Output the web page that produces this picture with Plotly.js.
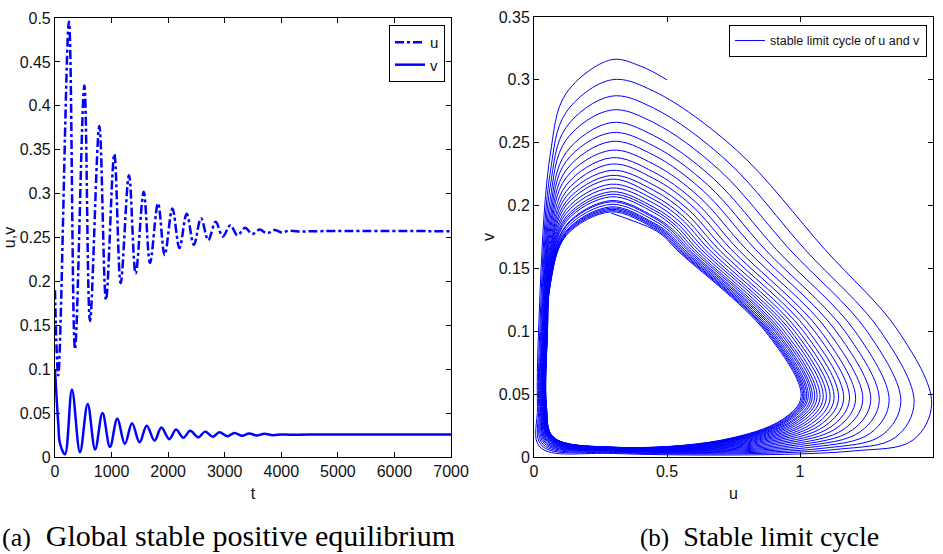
<!DOCTYPE html>
<html>
<head>
<meta charset="utf-8">
<script src="https://cdn.plot.ly/plotly-3.0.1.min.js"></script>
<style>html,body{margin:0;padding:0;background:#fff;}#chart{width:943px;height:554px;}</style>
</head>
<body>
<div id="chart"></div>
<script>
// ---------- (a) time series u(t), v(t) : extrema ----------
const uTime = [0,58,247,354,519,619,784,902,1049,1161,1308,1426,1568,1680,1821,1939,2075,2200,2328,2455,2581,2710,2840,2965,3100,3225,3360,3485,3620,3745,3880,4005,4140,4300,4600,7000];
const uVal  = [0.19,0.093,0.496,0.123,0.423,0.155,0.377,0.179,0.345,0.198,0.321,0.209,0.302,0.221,0.289,0.230,0.283,0.238,0.277,0.2415,0.272,0.247,0.268,0.251,0.264,0.2525,0.261,0.254,0.259,0.2548,0.2585,0.2558,0.2578,0.2568,0.2572,0.2572];
const vTime = [0,58,88,177,300,442,578,710,840,972,1101,1235,1362,1495,1621,1760,1880,2020,2139,2268,2390,2534,2652,2788,2905,3050,3170,3310,3430,3570,3700,3850,4000,4150,4500,7000];
const vVal  = [0.100,0.038,0.0156,0.003,0.077,0.0055,0.0605,0.0085,0.050,0.0115,0.0435,0.0148,0.0385,0.0167,0.0355,0.0186,0.0335,0.0203,0.0312,0.0218,0.0298,0.0224,0.0289,0.023,0.0281,0.0236,0.0274,0.0241,0.0268,0.0245,0.0264,0.0249,0.0257,0.0254,0.0255,0.0255];

// ---------- (b) phase portrait: key points of each turn of the spiral (outer -> inner) ----------
const startPts = {u:[0.50,0.40], v:[0.300,0.311]};
const topU = 0.29;
const topV   = [0.316,0.300,0.287,0.276,0.266,0.258,0.251,0.244,0.238,0.233,0.228,0.224,0.221,0.217,0.214,0.211,0.209,0.207,0.204,0.203,0.201,0.199,0.198,0.197,0.196,0.195,0.194];
const arcU = 0.12;
const arcV   = [0.289,0.274,0.262,0.252,0.242,0.235,0.228,0.222,0.216,0.211,0.207,0.203,0.200,0.1965,0.1937,0.1909,0.189,0.1872,0.1843,0.1834,0.1815,0.1796,0.1787,0.1778,0.1769,0.1759];
const left1U = 0.06;
const left1V = [0.239,0.225,0.214,0.204,0.196,0.189,0.183,0.178,0.173,0.168,0.164,0.161,0.158,0.155,0.152,0.150,0.148,0.146,0.144,0.142,0.141,0.140,0.139,0.137,0.136,0.136];
const left2V = 0.10;
const left2U = [0.017,0.0216,0.0253,0.0283,0.0309,0.0332,0.0352,0.037,0.0387,0.0401,0.0414,0.0426,0.0436,0.0445,0.0454,0.0462,0.0468,0.0475,0.0481,0.0486,0.0491,0.0495,0.0498,0.0503,0.0505,0.0508];
const left3V = 0.04;
const left3U = [0.013,0.0176,0.0213,0.0243,0.0269,0.0292,0.0312,0.033,0.0347,0.0361,0.0374,0.0386,0.0396,0.0405,0.0414,0.0422,0.0428,0.0435,0.0441,0.0446,0.0451,0.0455,0.0458,0.0463,0.0465,0.0468];
const cornerU = [0.022,0.0288,0.0344,0.039,0.0429,0.0463,0.0493,0.051,0.0545,0.0567,0.0587,0.0604,0.0619,0.0633,0.0646,0.0658,0.0667,0.0677,0.0687,0.0694,0.0701,0.0708,0.0713,0.0719,0.0723,0.0726];
const cornerV = [0.008,0.0091,0.0099,0.0107,0.0113,0.0118,0.0123,0.0127,0.0131,0.0134,0.0138,0.014,0.0143,0.0145,0.0147,0.0149,0.015,0.0152,0.0153,0.0154,0.0155,0.0156,0.0157,0.0158,0.0159,0.0159];
const bot1U = 0.3;
const bot1V  = [0.0028,0.0035,0.004,0.0045,0.0049,0.0052,0.0055,0.0057,0.006,0.0062,0.0064,0.0066,0.0067,0.0069,0.007,0.0071,0.0072,0.0073,0.0074,0.0075,0.0075,0.0076,0.0076,0.0077,0.0077,0.0078];
const bot2U  = [1.195,1.129,1.079,1.035,0.998,0.966,0.936,0.909,0.886,0.864,0.845,0.828,0.813,0.799,0.787,0.775,0.764,0.755,0.746,0.739,0.731,0.725,0.719,0.714,0.709,0.704];
const bot2V  = [0.0047,0.0059,0.0068,0.0076,0.0083,0.0089,0.0094,0.0099,0.0103,0.0107,0.011,0.0113,0.0116,0.0118,0.012,0.0122,0.0124,0.0126,0.0128,0.0129,0.013,0.0131,0.0132,0.0133,0.0134,0.0134];
const bot3U  = [1.425,1.359,1.309,1.265,1.228,1.196,1.166,1.139,1.116,1.094,1.075,1.058,1.043,1.029,1.017,1.005,0.994,0.985,0.976,0.969,0.961,0.955,0.949,0.944,0.939,0.934];
const bot3V  = [0.0135,0.0157,0.0175,0.019,0.0203,0.0214,0.0223,0.0232,0.024,0.0247,0.0254,0.0259,0.0264,0.0269,0.0273,0.0277,0.028,0.0283,0.0286,0.0288,0.0291,0.0293,0.0294,0.0296,0.0298,0.0299];
const rightU = [1.495,1.429,1.379,1.335,1.298,1.266,1.236,1.209,1.186,1.164,1.145,1.128,1.113,1.099,1.087,1.075,1.064,1.055,1.046,1.039,1.031,1.025,1.019,1.014,1.009,1.004];
const rightV = [0.0427,0.0434,0.044,0.0445,0.0449,0.0452,0.0455,0.0458,0.0461,0.0463,0.0465,0.0467,0.0468,0.047,0.0471,0.0472,0.0473,0.0475,0.0475,0.0476,0.0477,0.0478,0.0478,0.0479,0.0479,0.048];
const rise1V = 0.10;
const rise1U = [1.370,1.303,1.252,1.207,1.169,1.136,1.106,1.078,1.055,1.032,1.013,0.995,0.980,0.966,0.954,0.941,0.930,0.921,0.912,0.905,0.897,0.890,0.884,0.879,0.874,0.869];
const rise2V = 0.165;
const rise2U = [1.094,1.019,0.9615,0.9114,0.8691,0.8326,0.7986,0.7679,0.7417,0.7168,0.6951,0.6759,0.6588,0.6429,0.6292,0.6157,0.6034,0.593,0.5828,0.5748,0.5659,0.559,0.5523,0.5465,0.541,0.5355];
const rise3U = [0.762,0.7258,0.6982,0.674,0.6537,0.6361,0.6196,0.6049,0.5923,0.5802,0.5698,0.5605,0.5522,0.5446,0.5379,0.5315,0.5255,0.5205,0.5155,0.5117,0.5074,0.5041,0.5009,0.4981,0.4954,0.4928];
const rise3V = [0.244,0.2354,0.228,0.2216,0.2163,0.2117,0.2072,0.2033,0.2001,0.1968,0.1942,0.1916,0.1897,0.1877,0.1858,0.1844,0.1831,0.1812,0.1804,0.1792,0.1779,0.1772,0.1766,0.1759,0.1752,0.1746];
const rise4U = 0.45;
const rise4V = [0.291,0.2775,0.266,0.2557,0.2474,0.2401,0.2329,0.2266,0.2215,0.2163,0.2121,0.208,0.2049,0.2018,0.1987,0.1966,0.1945,0.1914,0.1903,0.1883,0.1862,0.1852,0.1841,0.1831,0.182,0.181];

const pu = startPts.u.slice(), pv = startPts.v.slice();
for (let k = 0; k < rightU.length; k++) {
  pu.push(topU, arcU, left1U, left2U[k], left3U[k], cornerU[k], bot1U, bot2U[k], bot3U[k], rightU[k], rise1U[k], rise2U[k], rise3U[k], rise4U);
  pv.push(topV[k], arcV[k], left1V[k], left2V, left3V, cornerV[k], bot1V[k], bot2V[k], bot3V[k], rightV[k], rise1V, rise2V, rise3V[k], rise4V[k]);
}
pu.push(topU); pv.push(topV[topV.length-1]);

const BLUE = '#0000ff';
const tickFont = {family:'"Liberation Sans Narrow", "Liberation Sans", Arial, sans-serif', size:16, color:'#111'};
const axisBase = {ticks:'inside', ticklen:5, tickcolor:'#000', tickwidth:1, showline:true, linecolor:'#000', linewidth:1,
  mirror:'ticks', showgrid:false, zeroline:false, tickfont:tickFont, autorange:false, fixedrange:true};
const serif = '"Liberation Serif", "Times New Roman", serif';

const traces = [
  {x:uTime, y:uVal, type:'scatter', mode:'lines', name:'u', xaxis:'x', yaxis:'y', legend:'legend',
   line:{color:BLUE, width:2.5, dash:'dashdot', shape:'spline', smoothing:1}},
  {x:vTime, y:vVal, type:'scatter', mode:'lines', name:'v', xaxis:'x', yaxis:'y', legend:'legend',
   line:{color:BLUE, width:2.5, shape:'spline', smoothing:1}},
  {x:pu, y:pv, type:'scatter', mode:'lines', name:'stable limit cycle of u and v', xaxis:'x2', yaxis:'y2', legend:'legend2',
   line:{color:BLUE, width:1, shape:'spline', smoothing:1}}
];

const layout = {
  width:943, height:554, margin:{l:0,r:0,t:0,b:0}, paper_bgcolor:'#fff', plot_bgcolor:'#fff', showlegend:true,
  xaxis: Object.assign({}, axisBase, {domain:[0.0583,0.4783], range:[0,7000], tick0:0, dtick:1000, anchor:'y',
    title:{text:'t', font:tickFont, standoff:8}}),
  yaxis: Object.assign({}, axisBase, {domain:[0.1751,0.9675], range:[0,0.5], tick0:0, dtick:0.05, anchor:'x',
    title:{text:'u,v', font:tickFont, standoff:0}}),
  xaxis2: Object.assign({}, axisBase, {domain:[0.5663,0.9894], range:[0,1.5], tick0:0, dtick:0.5, anchor:'y2',
    title:{text:'u', font:tickFont, standoff:8}}),
  yaxis2: Object.assign({}, axisBase, {domain:[0.1751,0.9693], range:[0,0.35], tick0:0, dtick:0.05, anchor:'x2',
    title:{text:'v', font:tickFont, standoff:0}}),
  legend: {x:0.4719, xanchor:'right', y:0.955, yanchor:'top', bgcolor:'#fff', bordercolor:'#000', borderwidth:1,
    font:Object.assign({}, tickFont, {size:15}), itemwidth:30, tracegroupgap:0},
  legend2: {x:0.983, xanchor:'right', y:0.955, yanchor:'top', bgcolor:'#fff', bordercolor:'#000', borderwidth:1,
    font:Object.assign({}, tickFont, {size:12.5}), itemwidth:30},
  annotations: [
    {text:'<span style="font-size:26px">(a)</span>&nbsp; Global stable positive equilibrium', xref:'paper', yref:'paper',
     x:0, y:0, xanchor:'left', yanchor:'bottom', showarrow:false, font:{family:serif, size:30, color:'#000'}},
    {text:'<span style="font-size:25px">(b)</span>&nbsp; Stable limit cycle', xref:'paper', yref:'paper',
     x:0.677, y:0, xanchor:'left', yanchor:'bottom', showarrow:false, font:{family:serif, size:28, color:'#000'}}
  ]
};
Plotly.newPlot('chart', traces, layout, {displayModeBar:false, staticPlot:true});
</script>
</body>
</html>
